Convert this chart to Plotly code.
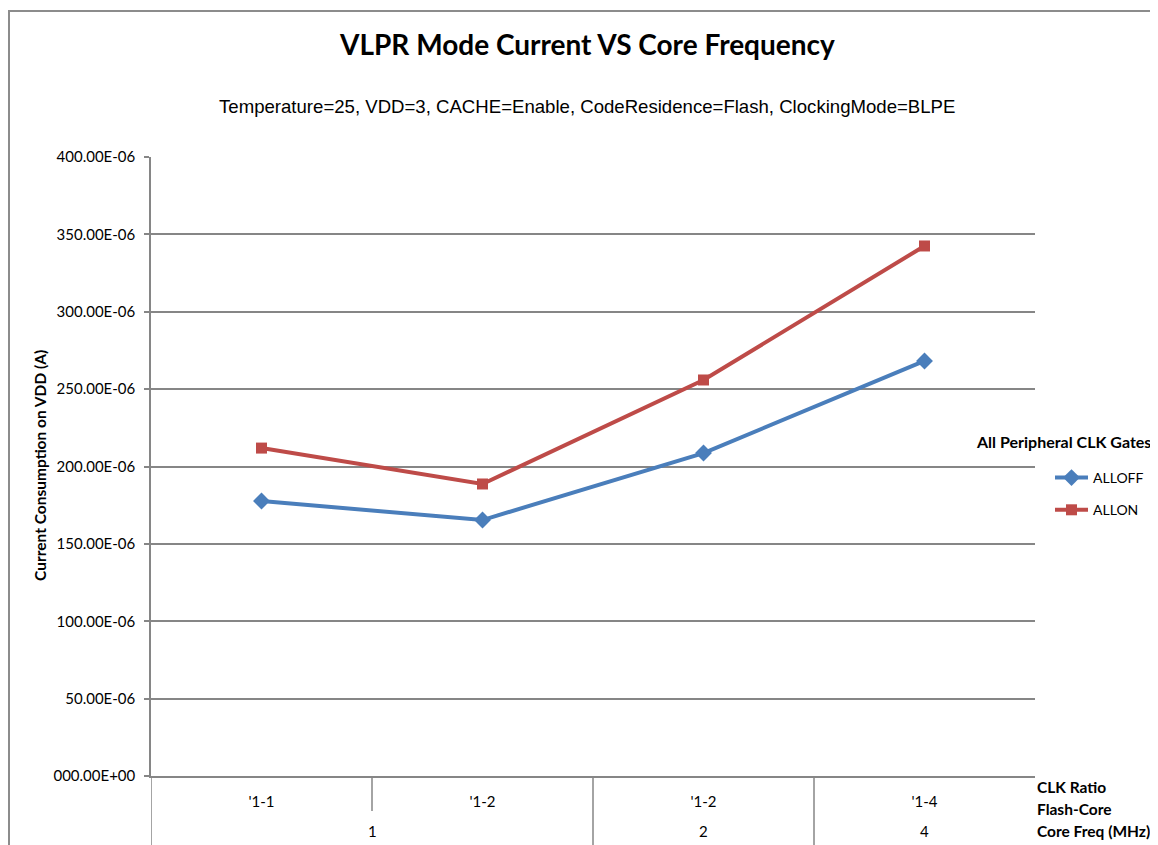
import plotly.graph_objects as go

# ---- data ----
core_freq = ["1", "1", "2", "4"]
clk_ratio = ["'1-1", "'1-2", "'1-2", "'1-4"]
alloff = [177.7e-6, 165.4e-6, 208.7e-6, 268.2e-6]
allon = [211.9e-6, 188.7e-6, 255.9e-6, 342.5e-6]
y_tickvals = [0, 50e-6, 100e-6, 150e-6, 200e-6, 250e-6, 300e-6, 350e-6, 400e-6]
y_ticktext = ["000.00E+00", "50.00E-06", "100.00E-06", "150.00E-06", "200.00E-06",
              "250.00E-06", "300.00E-06", "350.00E-06", "400.00E-06"]
axis_row_labels = ["CLK Ratio", "Flash-Core", "Core Freq (MHz)"]

# page offset (browser body margin)
OX, OY = 8, 8
W, H = 1158 - OX, 845 - OY
L, R, T, B = 151, 1035, 157, 776          # plot area in page pixels
pw, ph = R - L, B - T

def px(x):
    return (x - L) / pw

def py(y):
    return (B - y) / ph

GRID = "#868686"
FONT = "Lato"

idx = list(range(len(clk_ratio)))

fig = go.Figure()
fig.add_trace(go.Scatter(
    x=idx, y=alloff, name="ALLOFF", mode="lines+markers", legendgroup="a",
    line=dict(color="#4A7EBB", width=4),
    marker=dict(symbol="diamond", size=13, color="#4A7EBB")))
fig.add_trace(go.Scatter(
    x=idx, y=allon, name="ALLON", mode="lines+markers", legendgroup="b",
    line=dict(color="#BE4B48", width=4),
    marker=dict(symbol="square", size=11, color="#BE4B48")))

fig.update_layout(
    width=W, height=H,
    margin=dict(l=L - OX, r=W - (R - OX), t=T - OY, b=H - (B - OY), autoexpand=False),
    paper_bgcolor="white", plot_bgcolor="white",
    font=dict(family=FONT, size=14, color="#000000"),
    showlegend=True,
    legend=dict(x=px(1050), y=py(462), xanchor="left", yanchor="top",
                font=dict(family=FONT, size=14), tracegroupgap=11,
                traceorder="grouped", itemwidth=33, bgcolor="rgba(0,0,0,0)"),
)
fig.update_yaxes(
    range=[0, 400e-6], tickvals=y_tickvals, ticktext=y_ticktext,
    showgrid=True, gridcolor=GRID, gridwidth=1.5,
    showline=True, linecolor=GRID, linewidth=1.5,
    ticks="outside", ticklen=5, tickcolor=GRID, tickwidth=1.5,
    ticklabelstandoff=6, zeroline=False,
    tickfont=dict(family=FONT, size=15, color="#000000"),
)
fig.update_xaxes(
    range=[-0.5, len(idx) - 0.5], tickvals=idx, ticktext=clk_ratio,
    showline=True, linecolor=GRID, linewidth=1.5,
    ticks="", ticklabelstandoff=11, showgrid=False, zeroline=False,
    tickfont=dict(family=FONT, size=15, color="#000000"),
)

# category boundaries (left edge, inner and group dividers)
fig.add_shape(type="line", xref="x", yref="paper", x0=-0.5, x1=-0.5,
              y0=0, y1=py(860), line=dict(color=GRID, width=1.5))
for i in idx[1:]:
    full = core_freq[i] != core_freq[i - 1]
    fig.add_shape(type="line", xref="x", yref="paper", x0=i - 0.5, x1=i - 0.5,
                  y0=0, y1=py(860 if full else 811), line=dict(color=GRID, width=1.5))

# outer group labels
groups = []
for f in core_freq:
    if f not in groups:
        groups.append(f)
for g in groups:
    members = [i for i in idx if core_freq[i] == g]
    fig.add_annotation(xref="x", yref="paper", x=sum(members) / len(members), y=py(831),
                       text=g, showarrow=False, yanchor="middle",
                       font=dict(family=FONT, size=15, color="#000000"))

ann = [
    dict(text="<b>VLPR Mode Current VS Core Frequency</b>", x=px(587), y=py(44),
         font=dict(family=FONT, size=28)),
    dict(text="Temperature=25, VDD=3, CACHE=Enable, CodeResidence=Flash, ClockingMode=BLPE",
         x=px(587), y=py(106), font=dict(family="Liberation Sans", size=18.6)),
    dict(text="<b>Current Consumption on VDD (A)</b>", x=px(40), y=py(466), textangle=-90,
         font=dict(family=FONT, size=15.5)),
    dict(text="<b>All Peripheral CLK Gates</b>", x=px(974), y=py(441), xanchor="left",
         font=dict(family=FONT, size=16)),
]
for lbl, yy in zip(axis_row_labels, [787, 809, 831]):
    ann.append(dict(text="<b>" + lbl + "</b>", x=px(1035), y=py(yy), xanchor="left",
                    font=dict(family=FONT, size=15.5)))
for a in ann:
    a.setdefault("xanchor", "center")
    fig.add_annotation(xref="paper", yref="paper", showarrow=False, yanchor="middle", **a)

# chart border
fig.add_shape(type="rect", xref="paper", yref="paper",
              x0=px(9), x1=px(1180), y0=py(870), y1=py(11),
              line=dict(color="#8C8C8C", width=2), layer="below")

fig.write_html("out.html")
